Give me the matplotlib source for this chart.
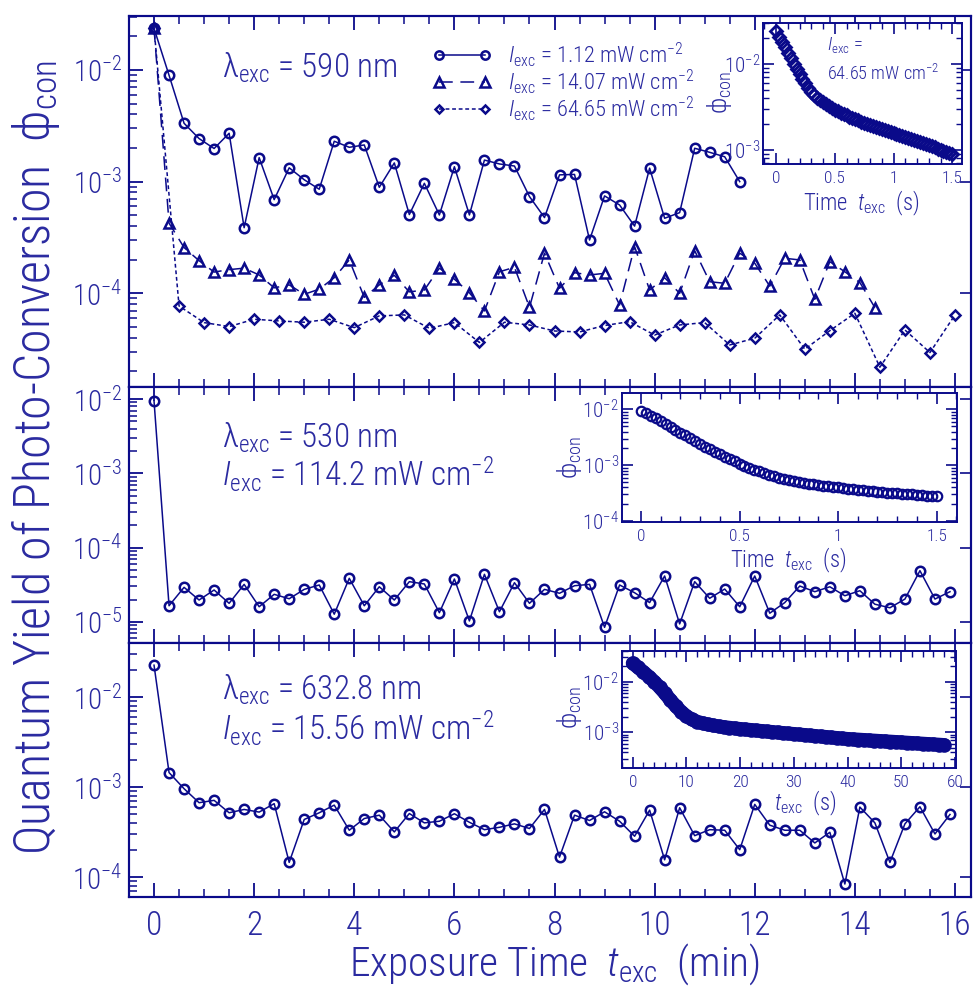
import numpy as np
import matplotlib
matplotlib.use("Agg")
import matplotlib.pyplot as plt
from matplotlib import font_manager as fm
from matplotlib.ticker import LogLocator, FixedLocator, FuncFormatter, MultipleLocator, NullFormatter
from matplotlib.lines import Line2D

# ---------------- font choice ----------------
_avail = {}
for f in fm.fontManager.ttflist:
    _avail.setdefault(f.name, set()).add((f.style, f.weight))
FAM = 'Liberation Sans'
for cand in ['Roboto Condensed', 'Archivo Narrow', 'PT Sans Narrow', 'Fira Sans Condensed',
             'IBM Plex Sans Condensed', 'Barlow Condensed', 'Encode Sans Condensed', 'Asap Condensed']:
    if cand in _avail:
        FAM = cand
        break
WGT = 'light' if any(w in (300, 'light') for s, w in _avail.get(FAM, set())) else 'normal'
plt.rcParams['font.family'] = [FAM, 'DejaVu Sans']
plt.rcParams['font.weight'] = WGT
plt.rcParams['mathtext.fontset'] = 'custom'
plt.rcParams['mathtext.rm'] = f'{FAM}:weight={WGT}'
plt.rcParams['mathtext.it'] = f'{FAM}:style=italic:weight={WGT}'
plt.rcParams['mathtext.sf'] = f'{FAM}:weight={WGT}'

NAVY = '#0a0a8a'
TXT = '#2a2aa0'

# ---------------- data ----------------
# top panel (lambda = 590 nm)
t_c590 = np.round(np.arange(0, 11.71, 0.3), 2)
phi_c590 = [0.0236, 8.96e-3, 3.33e-3, 2.43e-3, 1.98e-3, 2.71e-3, 3.87e-4, 1.64e-3, 6.9e-4, 1.33e-3,
            1.04e-3, 8.55e-4, 2.30e-3, 2.03e-3, 2.13e-3, 8.9e-4, 1.47e-3, 5.07e-4, 9.66e-4, 5.03e-4,
            1.36e-3, 5.03e-4, 1.56e-3, 1.44e-3, 1.38e-3, 7.35e-4, 4.77e-4, 1.15e-3, 1.16e-3, 3.0e-4,
            7.45e-4, 6.18e-4, 4.0e-4, 1.32e-3, 4.7e-4, 5.28e-4, 1.99e-3, 1.83e-3, 1.67e-3, 1.0e-3]
t_t590 = np.round(np.arange(0, 14.41, 0.3), 2)
phi_t590 = [0.0236, 4.25e-4, 2.57e-4, 1.96e-4, 1.55e-4, 1.63e-4, 1.68e-4, 1.46e-4, 1.12e-4, 1.19e-4,
            9.8e-5, 1.09e-4, 1.38e-4, 1.99e-4, 9.2e-5, 1.19e-4, 1.45e-4, 1.03e-4, 1.07e-4, 1.68e-4,
            1.34e-4, 1.01e-4, 6.95e-5, 1.56e-4, 1.71e-4, 7.5e-5, 2.29e-4, 1.11e-4, 1.53e-4, 1.46e-4,
            1.51e-4, 7.87e-5, 2.62e-4, 1.07e-4, 1.38e-4, 1.0e-4, 2.41e-4, 1.27e-4, 1.23e-4, 2.29e-4,
            1.86e-4, 1.16e-4, 2.06e-4, 1.99e-4, 8.85e-5, 1.92e-4, 1.56e-4, 1.25e-4, 7.45e-5]
t_d590 = np.round(np.arange(0, 16.01, 0.5), 2)
phi_d590 = [0.0236, 7.7e-5, 5.47e-5, 5.04e-5, 5.86e-5, 5.66e-5, 5.51e-5, 5.86e-5, 4.93e-5, 6.28e-5,
            6.41e-5, 4.86e-5, 5.47e-5, 3.63e-5, 5.51e-5, 5.21e-5, 4.6e-5, 4.51e-5, 5.15e-5, 5.58e-5,
            4.23e-5, 5.21e-5, 5.47e-5, 3.45e-5, 3.96e-5, 6.41e-5, 3.16e-5, 4.63e-5, 6.63e-5, 2.18e-5,
            4.7e-5, 2.95e-5, 6.41e-5]
legend_labels = [r'$\mathit{I}_{\rm exc}$ = 1.12 mW cm$^{-2}$',
                 r'$\mathit{I}_{\rm exc}$ = 14.07 mW cm$^{-2}$',
                 r'$\mathit{I}_{\rm exc}$ = 64.65 mW cm$^{-2}$']

# middle panel (lambda = 530 nm)
t_530 = np.round(np.arange(0, 15.91, 0.3), 2)
phi_530 = [9.4e-3, 1.65e-5, 2.92e-5, 1.97e-5, 2.69e-5, 1.78e-5, 3.2e-5, 1.6e-5, 2.35e-5, 2.05e-5,
           2.74e-5, 3.14e-5, 1.27e-5, 3.86e-5, 1.65e-5, 2.97e-5, 1.97e-5, 3.48e-5, 3.24e-5, 1.33e-5,
           3.78e-5, 1.03e-5, 4.37e-5, 1.37e-5, 3.37e-5, 1.78e-5, 2.74e-5, 2.43e-5, 3.07e-5, 3.2e-5,
           8.45e-6, 3.14e-5, 2.47e-5, 1.82e-5, 4.15e-5, 9.4e-6, 3.48e-5, 2.08e-5, 2.77e-5, 1.6e-5,
           4.15e-5, 1.31e-5, 1.82e-5, 3.04e-5, 2.55e-5, 2.97e-5, 2.25e-5, 2.63e-5, 1.73e-5, 1.55e-5,
           2.03e-5, 4.89e-5, 2.03e-5, 2.55e-5]

# bottom panel (lambda = 632.8 nm)
t_633 = np.round(np.arange(0, 15.91, 0.3), 2)
phi_633 = [0.02255, 1.45e-3, 9.6e-4, 6.71e-4, 7.13e-4, 5.19e-4, 5.65e-4, 5.28e-4, 6.55e-4, 1.46e-4,
           4.37e-4, 5.19e-4, 6.31e-4, 3.32e-4, 4.48e-4, 4.88e-4, 3.18e-4, 5.09e-4, 4.01e-4, 4.18e-4,
           5.06e-4, 4.07e-4, 3.37e-4, 3.58e-4, 3.91e-4, 3.47e-4, 5.65e-4, 1.67e-4, 4.88e-4, 4.26e-4,
           5.32e-4, 4.18e-4, 2.85e-4, 5.55e-4, 1.56e-4, 5.9e-4, 2.89e-4, 3.37e-4, 3.32e-4, 2.02e-4,
           6.43e-4, 3.78e-4, 3.32e-4, 3.32e-4, 2.4e-4, 3.15e-4, 8.4e-5, 6.0e-4, 4.01e-4, 1.46e-4,
           3.91e-4, 6.05e-4, 3.02e-4, 4.97e-4]

# inset 1 (590 nm, 64.65 mW cm-2), log10(phi) every 0.025 s
t_in1 = np.round(np.arange(0, 1.5001, 0.025), 3)
logphi_in1 = [-1.620, -1.682, -1.745, -1.808, -1.870, -1.933, -1.995, -2.056, -2.115, -2.172,
              -2.225, -2.275, -2.320, -2.357, -2.390, -2.419, -2.445, -2.468, -2.490, -2.510,
              -2.530, -2.548, -2.565, -2.582, -2.598, -2.613, -2.628, -2.642, -2.655, -2.669,
              -2.682, -2.695, -2.707, -2.719, -2.731, -2.743, -2.755, -2.767, -2.779, -2.791,
              -2.803, -2.815, -2.827, -2.839, -2.851, -2.863, -2.875, -2.887, -2.899, -2.911,
              -2.923, -2.935, -2.947, -2.959, -2.971, -2.983, -2.995, -3.008, -3.020, -3.033,
              -3.045]

# inset 2 (530 nm), log10(phi) every 0.025 s
t_in2 = np.round(np.arange(0, 1.5001, 0.025), 3)
logphi_in2 = [-2.029, -2.074, -2.119, -2.164, -2.208, -2.260, -2.312, -2.364, -2.416, -2.468,
              -2.520, -2.573, -2.625, -2.670, -2.715, -2.759, -2.803, -2.845, -2.887, -2.929,
              -2.970, -3.006, -3.042, -3.077, -3.112, -3.140, -3.167, -3.194, -3.220, -3.240,
              -3.259, -3.278, -3.297, -3.312, -3.327, -3.342, -3.357, -3.367, -3.378, -3.388,
              -3.398, -3.408, -3.419, -3.429, -3.439, -3.448, -3.457, -3.466, -3.475, -3.483,
              -3.490, -3.498, -3.505, -3.511, -3.517, -3.523, -3.529, -3.535, -3.542, -3.548,
              -3.554]

# inset 3 (632.8 nm), log10(phi) every 1 s
t_in3 = np.arange(0, 59, 1)
logphi_in3 = [-1.637, -1.72, -1.81, -1.90, -2.00, -2.11, -2.23, -2.36, -2.48, -2.59,
              -2.68, -2.745, -2.79, -2.82, -2.845, -2.865, -2.882, -2.896, -2.909, -2.921,
              -2.933, -2.943, -2.953, -2.963, -2.973, -2.983, -2.993, -3.003, -3.013, -3.022,
              -3.032, -3.042, -3.052, -3.062, -3.072, -3.081, -3.091, -3.101, -3.111, -3.120,
              -3.130, -3.137, -3.143, -3.150, -3.157, -3.163, -3.170, -3.177, -3.183, -3.190,
              -3.196, -3.203, -3.210, -3.216, -3.223, -3.230, -3.236, -3.243, -3.250]

# ---------------- figure ----------------
W, H = 973, 988
fig = plt.figure(figsize=(W / 100, H / 100), dpi=100)
renderer = fig.canvas.get_renderer()


def size_for(s, target_w):
    t = fig.text(0, 0, s, fontsize=10)
    bb = t.get_window_extent(renderer)
    t.remove()
    return 10.0 * target_w / max(bb.width, 1)


def px_axes(x0, y0, x1, y1):
    return fig.add_axes([x0 / W, 1 - y1 / H, (x1 - x0) / W, (y1 - y0) / H])


def fx(x):
    return x / W


def fy(y):
    return 1 - y / H


def fmt_pow(v, pos):
    if v <= 0:
        return ''
    e = int(round(np.log10(v)))
    if abs(np.log10(v) - e) > 1e-6:
        return ''
    return r'10$^{%d}$' % e


def style_spines(ax, lw=1.5):
    for s in ax.spines.values():
        s.set_color(NAVY)
        s.set_linewidth(lw)


FS_YT = size_for(r'10$^{-2}$', 44) * 1.17
FS_XT = size_for('16', 27) * 1.2
FS_ANN = size_for(r'λ$_{\rm exc}$ = 590 nm', 178)
FS_LEG = size_for(legend_labels[0], 176)
FS_YL = size_for(r'Quantum Yield of Photo-Conversion  ϕ$_{\rm con}$', 825) * 0.97
FS_XL = size_for(r'Exposure Time  $\mathit{t}_{\rm exc}$  (min)', 415)
FS_IT = size_for(r'10$^{-2}$', 29) * 1.3
FS_IX = size_for('0.5', 15) * 1.4
FS_IL = size_for(r'Time  $\mathit{t}_{\rm exc}$  (s)', 118)
FS_IPHI = size_for(r'ϕ$_{\rm con}$', 45)
FS_ITX = size_for(r'64.65 mW cm$^{-2}$', 113)

XL = (-0.5, 16.32)
panels = [
    (16, 386.7, (10 ** -4.836, 10 ** -1.517), [1e-2, 1e-3, 1e-4]),
    (386.7, 643.3, (10 ** -5.288, 10 ** -1.834), [1e-2, 1e-3, 1e-4, 1e-5]),
    (643.3, 897.3, (10 ** -4.223, 10 ** -1.404), [1e-2, 1e-3, 1e-4]),
]
axes = []
for (y0, y1, yl, majors) in panels:
    ax = px_axes(129, y0, 971, y1)
    ax.set_yscale('log')
    ax.set_xlim(*XL)
    ax.set_ylim(*yl)
    ax.yaxis.set_major_locator(FixedLocator(majors))
    ax.yaxis.set_minor_locator(LogLocator(base=10, subs=np.arange(2, 10), numticks=20))
    ax.yaxis.set_major_formatter(FuncFormatter(fmt_pow))
    ax.yaxis.set_minor_formatter(NullFormatter())
    ax.xaxis.set_major_locator(MultipleLocator(2))
    ax.xaxis.set_minor_locator(MultipleLocator(0.5))
    ax.tick_params(which='both', direction='in', colors=NAVY, labelcolor=TXT, top=True, right=False)
    ax.tick_params(which='major', length=10, width=1.3, pad=5)
    ax.tick_params(axis='y', which='major', labelsize=FS_YT)
    ax.tick_params(axis='x', which='major', labelsize=FS_XT, pad=9)
    ax.tick_params(which='minor', length=6, width=1.1)
    axr = ax.twinx()
    axr.set_yscale('log')
    axr.set_ylim(*yl)
    axr.yaxis.set_major_locator(FixedLocator(majors))
    axr.yaxis.set_minor_locator(FixedLocator([]))
    axr.tick_params(direction='in', length=8, width=1.2, colors=NAVY, labelright=False)
    style_spines(ax)
    style_spines(axr)
    axes.append(ax)

ax1, ax2, ax3 = axes
ax1.tick_params(axis='x', labelbottom=False)
ax2.tick_params(axis='x', labelbottom=False)

mk = dict(mfc='none', mec=NAVY, mew=1.8, color=NAVY, lw=1.1)
ax1.plot(t_c590, phi_c590, 'o', ls='-', ms=6.8, **mk, zorder=5)
ax1.plot(t_t590, phi_t590, '^', ls=(0, (9, 5)), ms=7.5, **mk, zorder=4)
ax1.plot(t_d590, phi_d590, 'D', ls=(0, (2.5, 1.8)), ms=5.0, **mk, zorder=3)

ax2.plot(t_530, phi_530, 'o', ls='-', ms=6.8, **mk)
ax3.plot(t_633, phi_633, 'o', ls='-', ms=6.8, **mk)

handles = [Line2D([], [], marker='o', ls='-', ms=6.0, **mk),
           Line2D([], [], marker='^', ls=(0, (9, 5)), ms=6.5, **mk),
           Line2D([], [], marker='D', ls=(0, (2.5, 1.8)), ms=4.5, **mk)]
leg = ax1.legend(handles, legend_labels, loc='upper left', bbox_to_anchor=(fx(432), fy(40)),
                 bbox_transform=fig.transFigure, frameon=False, numpoints=2,
                 handlelength=60 / (FS_LEG * 1.389), handletextpad=16 / (FS_LEG * 1.389),
                 labelspacing=-0.08, fontsize=FS_LEG, borderpad=0, borderaxespad=0)
for txt in leg.get_texts():
    txt.set_color(TXT)

tk = dict(color=TXT, fontsize=FS_ANN, ha='left', va='center')
fig.text(fx(222), fy(68), r'λ$_{\rm exc}$ = 590 nm', **tk)
fig.text(fx(222), fy(438), r'λ$_{\rm exc}$ = 530 nm', **tk)
fig.text(fx(222), fy(474), r'$\mathit{I}_{\rm exc}$ = 114.2 mW cm$^{-2}$', **tk)
fig.text(fx(222), fy(690), r'λ$_{\rm exc}$ = 632.8 nm', **tk)
fig.text(fx(222), fy(728), r'$\mathit{I}_{\rm exc}$ = 15.56 mW cm$^{-2}$', **tk)

fig.text(fx(36), fy(458), r'Quantum Yield of Photo-Conversion  ϕ$_{\rm con}$', rotation=90,
         color=TXT, fontsize=FS_YL, ha='center', va='center')
fig.text(fx(555), fy(964), r'Exposure Time  $\mathit{t}_{\rm exc}$  (min)',
         color=TXT, fontsize=FS_XL, ha='center', va='center')


# ---------------- insets ----------------
def make_inset(box, xl, yl, majors, xmaj, xmin):
    ax = px_axes(*box)
    ax.set_yscale('log')
    ax.set_xlim(*xl)
    ax.set_ylim(*yl)
    ax.yaxis.set_major_locator(FixedLocator(majors))
    ax.yaxis.set_minor_locator(LogLocator(base=10, subs=np.arange(2, 10), numticks=20))
    ax.yaxis.set_major_formatter(FuncFormatter(fmt_pow))
    ax.yaxis.set_minor_formatter(NullFormatter())
    ax.xaxis.set_major_locator(MultipleLocator(xmaj))
    ax.xaxis.set_minor_locator(MultipleLocator(xmin))
    ax.xaxis.set_major_formatter(FuncFormatter(lambda v, p: ('%g' % v)))
    ax.tick_params(which='both', direction='in', colors=NAVY, labelcolor=TXT,
                   top=True, right=True)
    ax.tick_params(which='major', length=8, width=1.2, pad=2)
    ax.tick_params(axis='y', which='major', labelsize=FS_IT)
    ax.tick_params(axis='x', which='major', labelsize=FS_IX, pad=5)
    ax.tick_params(which='minor', length=4.5, width=1.0)
    style_spines(ax, 1.4)
    ax.patch.set_facecolor('white')
    return ax


itx = dict(color=TXT, ha='center', va='center')

in1 = make_inset((763.3, 22.7, 961.7, 164), (-0.108, 1.58), (10 ** -3.163, 10 ** -1.52),
                 [1e-2, 1e-3], 0.5, 0.1)
in1.plot(t_in1, 10 ** np.array(logphi_in1), 'D', ms=6.2, mfc='none', mec=NAVY, mew=2.0)
fig.text(fx(720), fy(92), r'ϕ$_{\rm con}$', rotation=90, fontsize=FS_IPHI, **itx)
fig.text(fx(861), fy(203), r'Time  $\mathit{t}_{\rm exc}$  (s)', fontsize=FS_IL, **itx)
in1.text(0.32, 0.84, r'$\mathit{I}_{\rm exc}$ =', transform=in1.transAxes, color=TXT,
         fontsize=FS_ITX, ha='left', va='center')
in1.text(0.32, 0.64, r'64.65 mW cm$^{-2}$', transform=in1.transAxes, color=TXT,
         fontsize=FS_ITX, ha='left', va='center')

in2 = make_inset((621.7, 392.7, 956.7, 521.7), (-0.098, 1.602), (10 ** -4.01, 10 ** -1.703),
                 [1e-2, 1e-3, 1e-4], 0.5, 0.1)
in2.plot(t_in2, 10 ** np.array(logphi_in2), 'o', ms=6.8, mfc='none', mec=NAVY, mew=1.6)
fig.text(fx(569), fy(457), r'ϕ$_{\rm con}$', rotation=90, fontsize=FS_IPHI, **itx)
fig.text(fx(788), fy(560), r'Time  $\mathit{t}_{\rm exc}$  (s)', fontsize=FS_IL, **itx)

in3 = make_inset((621.7, 650.7, 956, 767.7), (-2.05, 60.2), (10 ** -3.698, 10 ** -1.389),
                 [1e-2, 1e-3], 10, 2)
phi3 = 10 ** np.array(logphi_in3)
in3.plot(t_in3, phi3, '-', lw=10.0, color=NAVY, solid_capstyle='round')
in3.plot(t_in3, phi3, 'o', ms=10.5, mfc=NAVY, mec=NAVY, mew=0)
fig.text(fx(569), fy(707), r'ϕ$_{\rm con}$', rotation=90, fontsize=FS_IPHI, **itx)
fig.text(fx(805), fy(803), r'$\mathit{t}_{\rm exc}$  (s)', fontsize=FS_IL, **itx)

fig.savefig('out.png', dpi=100)
